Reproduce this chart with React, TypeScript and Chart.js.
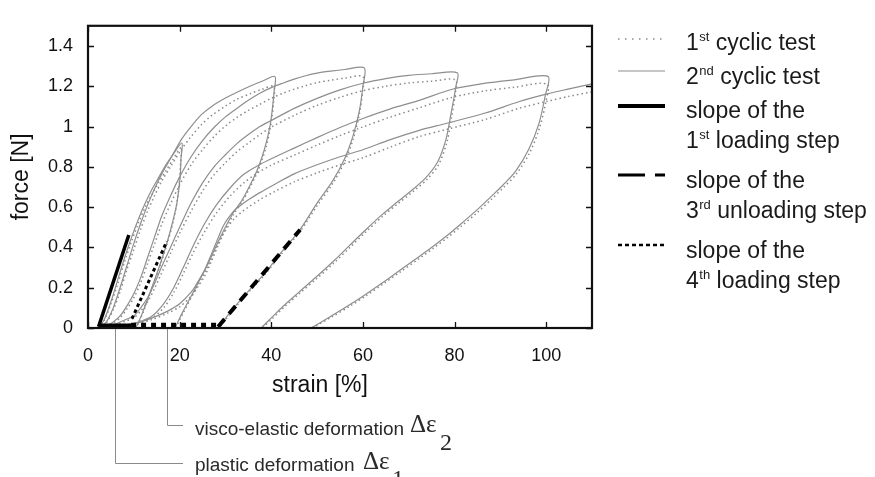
import React, { useEffect, useRef } from "react";
import { Chart, registerables } from "chart.js";
Chart.register(...registerables);

// ---- axis ticks ----
const xTicks = [0, 20, 40, 60, 80, 100];
const yTicks = [0, 0.2, 0.4, 0.6, 0.8, 1, 1.2, 1.4];

// ---- 2nd cyclic test (solid) : [strain %, force N] ----
const t2Cycle1 = [[2.3,0],[3.5,0.04],[5,0.13],[6.5,0.24],[8,0.35],[9.5,0.45],[11,0.54],[12.5,0.62],[14,0.69],[15.5,0.75],[17,0.81],[18.5,0.86],[20.5,0.918],[20.3,0.84],[20.1,0.745],[19.4,0.62],[18.4,0.52],[17.2,0.42],[15.8,0.32],[13.6,0.18],[11.8,0.07],[10.7,0.014],[10.3,0]];
const t2Cycle2 = [[2.5,0],[4,0.03],[5.5,0.1],[7,0.2],[8.5,0.31],[10,0.42],[11.5,0.52],[13,0.61],[14.5,0.69],[16,0.76],[18,0.84],[20.5,0.94],[22.5,1.0],[24.8,1.06],[27,1.1],[29.9,1.14],[32.5,1.17],[35.3,1.2],[38,1.225],[40.8,1.248],[40.6,1.17],[40.2,1.08],[39.7,1.0],[38.9,0.92],[38,0.85],[36.8,0.777],[35.3,0.706],[33.5,0.63],[31.7,0.572],[28.8,0.447],[25.9,0.305],[23,0.179],[20.8,0.085],[19.4,0.02],[19,0]];
const t2Cycle3 = [[3,0],[4,0.01],[5.5,0.03],[7,0.06],[8.5,0.11],[10,0.17],[11.5,0.25],[13,0.35],[14.5,0.45],[16,0.55],[18,0.655],[20,0.75],[22.5,0.85],[25,0.93],[27.5,0.995],[30,1.048],[32.5,1.09],[35,1.13],[37.5,1.165],[40,1.193],[42.5,1.215],[45,1.235],[47.5,1.252],[50,1.265],[53,1.275],[56,1.283],[60.3,1.291],[60,1.2],[59.2,1.075],[57.8,0.95],[56,0.84],[53.4,0.73],[50,0.62],[46.2,0.486],[42,0.37],[38.5,0.27],[35.3,0.19],[32,0.105],[29.8,0.042],[28.6,0.005]];
const t2Cycle4 = [[3,0],[4.5,0.005],[6,0.02],[8,0.04],[10,0.06],[11.5,0.1],[13,0.15],[14.5,0.22],[16,0.3],[18,0.4],[20,0.5],[22.5,0.62],[25,0.72],[27.5,0.8],[30,0.86],[32.5,0.915],[35,0.96],[37.5,1.0],[40,1.03],[45,1.09],[50,1.14],[55,1.182],[60,1.215],[65,1.238],[70,1.254],[75,1.262],[80.6,1.267],[80.3,1.2],[79.2,1.06],[78.1,0.934],[76.3,0.824],[73.7,0.745],[71,0.69],[67.5,0.625],[64.3,0.565],[60.5,0.485],[57.1,0.41],[53.5,0.33],[49.8,0.253],[46,0.177],[42.6,0.108],[40,0.05],[38,0.005]];
const t2Cycle5 = [[3,0],[5,0.005],[8,0.015],[11,0.03],[14,0.06],[16.5,0.12],[18.7,0.2],[20.8,0.3],[23,0.41],[25.5,0.52],[28,0.61],[31,0.695],[34,0.763],[37,0.805],[40,0.84],[45,0.893],[50,0.945],[55,0.995],[60,1.04],[66,1.088],[72.3,1.13],[79.5,1.185],[86.7,1.215],[93,1.232],[100.4,1.249],[99.8,1.154],[98.4,1.013],[96.2,0.887],[93.3,0.777],[90.6,0.71],[87.9,0.651],[84.6,0.58],[81,0.509],[78.1,0.454],[75.2,0.403],[72.3,0.355],[68,0.285],[64.3,0.225],[60.5,0.165],[57.1,0.115],[53,0.058],[48.7,0]];
const t2Cycle6 = [[3,0],[6,0.005],[10,0.02],[14,0.05],[17.5,0.085],[20,0.12],[22.6,0.18],[24,0.23],[25.5,0.29],[27,0.37],[28.4,0.447],[29.5,0.505],[30.6,0.545],[32,0.585],[33.5,0.612],[35,0.636],[37.5,0.672],[40.8,0.714],[45,0.765],[50,0.81],[55,0.85],[60,0.885],[66,0.935],[72.3,0.981],[78.1,1.015],[86.7,1.067],[94,1.123],[100.2,1.162],[105,1.187],[110,1.212]];

// ---- 1st cyclic test (dotted) ----
const t1Cycle1 = [[2.3,0],[3.5,0.035],[5,0.12],[6.5,0.22],[8,0.33],[9.5,0.43],[11,0.52],[12.5,0.6],[14,0.665],[15.5,0.725],[17,0.78],[18.5,0.835],[20.3,0.895],[20.2,0.82],[20,0.745],[19.4,0.62],[18.5,0.52],[17.3,0.42],[15.9,0.32],[13.7,0.18],[11.9,0.07],[10.8,0.014],[10.4,0]];
const t1Cycle2 = [[2.5,0],[4,0.025],[5.5,0.09],[7,0.18],[8.5,0.29],[10,0.39],[11.5,0.49],[13,0.58],[14.5,0.655],[16,0.725],[18,0.8],[20.5,0.89],[22.5,0.95],[24.8,1.01],[27,1.055],[29.9,1.1],[32.5,1.135],[35.3,1.162],[38,1.185],[40.5,1.2],[40.5,1.12],[40.1,1.04],[39.6,0.97],[38.9,0.9],[38,0.835],[36.9,0.77],[35.4,0.7],[33.6,0.625],[31.8,0.565],[28.9,0.44],[26,0.3],[23.1,0.175],[20.9,0.08],[19.5,0.018],[19.1,0]];
const t1Cycle3 = [[3,0],[4,0.008],[5.5,0.025],[7,0.05],[8.5,0.095],[10,0.15],[11.5,0.225],[13,0.32],[14.5,0.415],[16,0.51],[18,0.615],[20,0.71],[22.5,0.81],[25,0.885],[27.5,0.95],[30,1.003],[32.5,1.045],[35,1.08],[37.5,1.11],[40,1.14],[42.5,1.165],[45,1.185],[47.5,1.203],[50,1.218],[53,1.23],[56,1.24],[60,1.248],[59.9,1.17],[59.2,1.06],[57.9,0.94],[56.1,0.83],[53.5,0.72],[50.1,0.61],[46.3,0.48],[42.1,0.365],[38.6,0.265],[35.4,0.186],[32.1,0.1],[29.9,0.038],[28.7,0.004]];
const t1Cycle4 = [[3,0],[4.5,0.004],[6,0.015],[8,0.032],[10,0.05],[11.5,0.085],[13,0.13],[14.5,0.195],[16,0.27],[18,0.37],[20,0.47],[22.5,0.58],[25,0.68],[27.5,0.76],[30,0.82],[32.5,0.875],[35,0.918],[37.5,0.96],[40,0.997],[45,1.055],[50,1.105],[55,1.145],[60,1.178],[65,1.2],[70,1.216],[75,1.225],[80.2,1.232],[80.2,1.17],[79.3,1.04],[78.3,0.92],[76.5,0.81],[73.9,0.735],[71.2,0.682],[67.7,0.618],[64.5,0.558],[60.7,0.478],[57.3,0.403],[53.7,0.323],[50,0.247],[46.2,0.172],[42.8,0.103],[40.2,0.046],[38.2,0.003]];
const t1Cycle5 = [[3,0],[5,0.004],[8,0.012],[11,0.025],[14,0.05],[16.5,0.1],[18.7,0.175],[20.8,0.27],[23,0.375],[25.5,0.48],[28,0.57],[31,0.655],[34,0.72],[37,0.77],[40,0.808],[45,0.858],[50,0.908],[55,0.955],[60,0.998],[66,1.047],[72.3,1.093],[79.5,1.145],[86.7,1.177],[93,1.195],[100.2,1.21],[99.9,1.12],[98.5,0.99],[96.4,0.87],[93.5,0.765],[90.8,0.7],[88.1,0.64],[84.8,0.57],[81.2,0.5],[78.3,0.446],[75.4,0.396],[72.5,0.348],[68.2,0.279],[64.5,0.22],[60.7,0.16],[57.3,0.11],[53.2,0.055],[48.9,0]];
const t1Cycle6 = [[3,0],[6,0.004],[10,0.016],[14,0.042],[17.5,0.075],[20,0.105],[22.6,0.16],[24,0.205],[25.5,0.26],[27,0.335],[28.4,0.41],[29.5,0.465],[30.6,0.505],[32,0.545],[33.5,0.575],[35,0.6],[37.5,0.637],[40.8,0.678],[45,0.725],[50,0.77],[55,0.81],[60,0.845],[66,0.898],[72.3,0.95],[78.1,0.985],[86.7,1.035],[94,1.09],[100.2,1.125],[105,1.15],[110,1.172]];

// ---- slope lines ----
const slope1Loading = [[2.3,0.006],[8.9,0.462]];
const slope1Base = [[2.3,0.012],[9.4,0.012]];
const slope3Unloading = [[28.4,0.006],[46.3,0.488]];
const slope4Loading = [[9.6,0.046],[17.2,0.43]];
const slope4Base = [[9.4,0.014],[28.4,0.014]];

// annotation anchors (strain %)
const plasticStrain = 6.0;
const viscoStrain = 17.3;

const FONT = "'Liberation Sans', Arial, Helvetica, sans-serif";
const SERIF = "'Liberation Serif', 'Times New Roman', serif";

const pts = (a: number[][]) => a.map(([x, y]) => ({ x, y }));

const solidDs = (d: number[][]) => ({
  data: pts(d), borderColor: "#8e8e8e", borderWidth: 1.2, pointRadius: 0, tension: 0.3, fill: false, order: 2,
});
const dottedDs = (d: number[][]) => ({
  data: pts(d), borderColor: "#8a8a8a", borderWidth: 1.5, borderDash: [1.5, 3], pointRadius: 0, tension: 0.3, fill: false, order: 3,
});
const slopeDs = (d: number[][], w: number, dash: number[]) => ({
  data: pts(d), borderColor: "#000", borderWidth: w, borderDash: dash, pointRadius: 0, tension: 0, fill: false, order: 0,
});

function supText(ctx: CanvasRenderingContext2D, x: number, y: number, a: string, sup: string, b: string) {
  ctx.font = `23px ${FONT}`;
  ctx.fillText(a, x, y);
  let cx = x + ctx.measureText(a).width + 0.5;
  ctx.font = `13px ${FONT}`;
  ctx.fillText(sup, cx, y - 9);
  cx += ctx.measureText(sup).width;
  ctx.font = `23px ${FONT}`;
  ctx.fillText(b, cx, y);
}

const decor = {
  id: "decor",
  afterDraw(chart: any) {
    const { ctx, chartArea: a, scales } = chart;
    const xs = scales.x, ys = scales.y;
    ctx.save();
    // frame
    ctx.strokeStyle = "#111";
    ctx.lineWidth = 2.2;
    ctx.setLineDash([]);
    ctx.strokeRect(a.left, a.top, a.right - a.left, a.bottom - a.top);
    // inward ticks
    ctx.lineWidth = 1.3;
    ctx.beginPath();
    xTicks.forEach((v) => {
      const px = Math.round(xs.getPixelForValue(v)) + 0.5;
      ctx.moveTo(px, a.bottom); ctx.lineTo(px, a.bottom - 6);
      ctx.moveTo(px, a.top); ctx.lineTo(px, a.top + 6);
    });
    yTicks.forEach((v) => {
      const py = Math.round(ys.getPixelForValue(v)) + 0.5;
      ctx.moveTo(a.left, py); ctx.lineTo(a.left + 6, py);
      ctx.moveTo(a.right, py); ctx.lineTo(a.right - 6, py);
    });
    ctx.stroke();

    // x title
    ctx.fillStyle = "#111";
    ctx.font = `23px ${FONT}`;
    ctx.textAlign = "center";
    ctx.textBaseline = "middle";
    ctx.fillText("strain [%]", 320, 386);

    // legend
    ctx.textAlign = "left";
    ctx.textBaseline = "alphabetic";
    const lx0 = 618, lx1 = 665, tx = 686;
    const sample = (y: number, color: string, w: number, dash: number[]) => {
      ctx.beginPath();
      ctx.strokeStyle = color; ctx.lineWidth = w; ctx.setLineDash(dash);
      ctx.moveTo(lx0, y); ctx.lineTo(lx1, y); ctx.stroke();
      ctx.setLineDash([]);
    };
    sample(39, "#8a8a8a", 1.5, [1.5, 5.5]);
    sample(71, "#8e8e8e", 1.2, []);
    sample(106, "#000", 4, []);
    sample(175, "#000", 3, [27, 10]);
    sample(245, "#000", 2.5, [4, 3]);
    ctx.fillStyle = "#1a1a1a";
    supText(ctx, tx, 50, "1", "st", " cyclic test");
    supText(ctx, tx, 84, "2", "nd", " cyclic test");
    ctx.font = `23px ${FONT}`;
    ctx.fillText("slope of the", tx, 118);
    supText(ctx, tx, 148, "1", "st", " loading step");
    ctx.font = `23px ${FONT}`;
    ctx.fillText("slope of the", tx, 188);
    supText(ctx, tx, 218, "3", "rd", " unloading step");
    ctx.font = `23px ${FONT}`;
    ctx.fillText("slope of the", tx, 258);
    supText(ctx, tx, 288, "4", "th", " loading step");

    // annotations
    const pX = Math.round(xs.getPixelForValue(plasticStrain)) + 0.5;
    const vX = Math.round(xs.getPixelForValue(viscoStrain)) + 0.5;
    ctx.strokeStyle = "#8a8a8a";
    ctx.lineWidth = 1;
    ctx.beginPath();
    ctx.moveTo(vX, a.bottom + 1); ctx.lineTo(vX, 425.5); ctx.lineTo(183, 425.5);
    ctx.moveTo(pX, a.bottom + 1); ctx.lineTo(pX, 463.5); ctx.lineTo(183, 463.5);
    ctx.stroke();
    ctx.fillStyle = "#2a2a2a";
    ctx.font = `19px ${FONT}`;
    ctx.fillText("visco-elastic deformation", 195, 435);
    ctx.fillText("plastic deformation", 195, 471);
    ctx.font = `25px ${SERIF}`;
    ctx.fillText("\u0394\u03b5", 410, 432);
    ctx.fillText("\u0394\u03b5", 363, 469);
    ctx.font = `24px ${SERIF}`;
    ctx.fillText("2", 440, 450);
    ctx.fillText("1", 392, 486);
    ctx.restore();
  },
};

export default function App() {
  const ref = useRef<HTMLCanvasElement | null>(null);
  useEffect(() => {
    document.body.style.margin = "0";
    const canvas = ref.current!;
    const chart = new Chart(canvas, {
      type: "line",
      data: {
        datasets: [
          dottedDs(t1Cycle1), dottedDs(t1Cycle2), dottedDs(t1Cycle3), dottedDs(t1Cycle4), dottedDs(t1Cycle5), dottedDs(t1Cycle6),
          solidDs(t2Cycle1), solidDs(t2Cycle2), solidDs(t2Cycle3), solidDs(t2Cycle4), solidDs(t2Cycle5), solidDs(t2Cycle6),
          slopeDs(slope1Loading, 3.5, []),
          slopeDs(slope1Base, 4, []),
          slopeDs(slope3Unloading, 4, [10, 7]),
          slopeDs(slope4Loading, 3, [3.5, 3]),
          slopeDs(slope4Base, 5, [5, 5]),
        ] as any,
      },
      options: {
        animation: false,
        responsive: false,
        devicePixelRatio: 1,
        layout: { padding: { top: 10, right: 283, left: 0, bottom: 0 } },
        plugins: { legend: { display: false }, tooltip: { enabled: false }, title: { display: false } },
        scales: {
          x: {
            type: "linear", min: 0, max: 110,
            grid: { display: false, drawTicks: false }, border: { display: false },
            afterBuildTicks: (s: any) => { s.ticks = xTicks.map((v) => ({ value: v })); },
            afterFit: (s: any) => { s.height = 149; },
            ticks: { padding: 17, maxRotation: 0, autoSkip: false, color: "#111", font: { size: 18, family: FONT },
              callback: (v: any) => String(Math.round(Number(v))) },
          },
          y: {
            type: "linear", min: 0, max: 1.5,
            grid: { display: false, drawTicks: false }, border: { display: false },
            afterBuildTicks: (s: any) => { s.ticks = yTicks.map((v) => ({ value: v })); },
            afterFit: (s: any) => { s.width = 88; },
            ticks: { padding: 15, color: "#111", font: { size: 18, family: FONT },
              callback: (v: any) => String(Math.round(Number(v) * 10) / 10) },
            title: { display: true, text: "force [N]", color: "#111", font: { size: 23, family: FONT }, padding: { top: 8, bottom: 0 } },
          },
        },
      } as any,
      plugins: [decor],
    });
    return () => chart.destroy();
  }, []);
  return (
    <div style={{ width: 875, height: 477, background: "#fff" }}>
      <canvas ref={ref} width={875} height={477} style={{ display: "block" }} />
    </div>
  );
}
